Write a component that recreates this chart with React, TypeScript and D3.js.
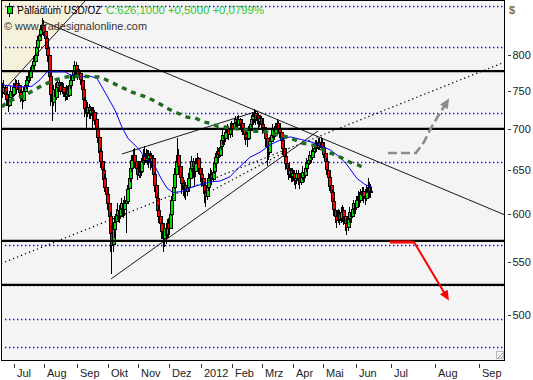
import React from "react";
import * as d3 from "d3";

// ---- data ----
const firstIndex = -8; // weekday index relative to 1 Jul 2011
const firstOpen = 752;
const closes = [
  748,755,745,738,732,742,750,745,
  755,760,752,758,748,742,738,750,758,765,
  770,768,778,786,792,800,812,822,830,838,
  845,835,825,810,800,770,745,735,752,742,
  755,762,758,750,755,748,742,752,745,
  758,765,772,778,785,778,770,774,765,752,
  738,728,722,728,720,724,718,722,712,700,
  690,672,660,650,640,630,622,612,598,580,
  568,585,592,600,605,598,606,612,605,612,
  615,628,640,652,662,668,660,652,645,
  655,648,660,668,662,670,664,668,660,664,
  645,632,618,605,598,590,582,575,585,578,
  590,585,600,615,630,645,660,668,655,642,
  635,628,632,625,630,640,652,660,654,648,
  658,664,652,645,640,632,625,620,630,
  640,645,640,648,658,665,672,668,678,686,
  692,688,696,700,694,700,706,700,708,712,
  706,712,704,708,700,694,690,688,698,706,
  712,716,720,712,718,710,714,706,702,
  696,688,678,672,685,692,700,694,702,708,
  700,696,686,676,666,658,652,645,650,642,
  646,638,640,646,640,636,642,648,644,652,
  658,662,668,665,672,676,680,678,684,680,
  684,678,670,660,650,642,632,624,614,605,
  598,594,600,595,602,604,598,590,586,
  595,602,598,606,612,608,616,620,615,622,
  626,620,618,625,630,625.6,626.1,
];
const highs = [
  760,764,758,750,742,748,756,755,
  760,766,764,765,760,752,748,755,762,770,
  776,777,783,792,798,806,818,828,836,845,
  855,852,840,828,815,802,775,752,758,760,
  762,768,764,762,762,760,754,758,756,
  762,772,778,784,792,790,782,780,776,768,
  755,742,735,735,732,730,728,728,724,716,
  704,694,676,664,655,645,636,628,616,602,
  588,590,598,606,612,610,612,618,616,620,
  622,633,646,658,668,675,676,666,658,
  660,660,664,675,679,675,674,674,672,670,
  668,648,636,622,610,602,595,588,590,590,
  595,596,605,620,636,652,666,688,675,660,
  648,640,638,636,636,646,658,666,664,660,
  664,670,665,656,650,644,636,630,636,
  646,652,650,652,664,670,678,676,684,692,
  698,696,702,706,704,708,710,708,714,716,
  716,718,714,712,710,704,700,696,704,712,
  718,722,726,724,722,720,718,716,712,
  706,700,690,682,690,698,706,704,708,712,
  710,706,698,690,680,670,664,656,656,652,
  652,650,646,650,650,646,648,654,652,656,
  664,668,672,674,678,682,686,686,688,688,
  690,688,682,674,664,654,646,636,628,618,
  610,604,606,604,608,610,608,600,596,
  600,608,606,612,616,616,620,626,624,628,
  630,630,628,632,640,636,634,
];
const lows = [
  740,745,738,730,722,728,740,738,
  742,748,746,748,742,735,726,735,745,752,
  760,760,765,774,780,788,798,808,818,826,
  832,828,818,800,790,760,730,710,730,722,
  738,748,748,744,745,742,736,738,737,
  742,752,760,766,772,770,765,764,758,745,
  730,715,698,715,712,712,698,712,705,692,
  682,665,652,642,632,624,615,605,590,560,
  538,560,575,588,594,590,595,600,596,598,
  580,612,624,636,648,656,652,645,638,
  640,640,645,655,656,658,656,652,650,652,
  638,624,610,598,590,582,574,560,565,568,
  575,575,584,598,612,628,642,655,648,635,
  622,620,618,615,620,626,638,648,640,630,
  642,652,645,636,630,622,612,608,615,
  626,636,632,636,645,652,660,658,665,674,
  680,680,684,688,686,688,692,690,698,702,
  700,704,698,696,692,686,680,678,686,694,
  702,706,708,705,706,700,702,698,694,
  688,678,655,662,668,680,688,686,690,696,
  694,688,678,668,658,650,644,638,640,636,
  636,632,628,634,632,628,632,638,636,640,
  648,652,656,658,662,666,670,672,674,674,
  676,672,664,654,644,636,626,616,606,598,
  590,585,590,588,590,592,588,582,578,
  582,590,590,596,600,600,604,610,608,612,
  614,612,610,614,620,618,618,
];

// moving averages: [weekday index, price]
const blueMA: [number, number][] = [
  [-8.6,758],[4.0,755],[12.4,756],[18.1,765],[23.0,776],[35.6,776],[39.1,772],[46.2,769],
  [53.2,770],[58.1,767],[63.7,748],[70.8,724],[75.7,702],[79.9,688],[86.9,676],[91.9,665],
  [98.9,654],[103.8,638],[107.3,629],[111.5,624],[117.9,625],[124.9,630],[137.5,636],
  [144.6,637],[151.6,642],[158.6,654],[165.7,665],[172.7,671],[179.7,680],[186.7,686],
  [193.8,690],[200.8,687],[209.9,683],[214.8,679],[221.9,674],[228.9,665],[233.8,656],
  [240.8,640],[246.4,633],[251.4,630],
];
const greenMA: [number, number][] = [
  [-8.6,728],[-5.1,735],[7.5,744],[13.1,750],[19.5,757],[28.6,765],[37.0,769],[47.6,770],
  [54.6,769],[60.2,769],[70.8,759],[82.7,748],[91.8,742],[98.9,736],[108.0,726],[115.0,720],
  [121.4,715],[127.0,714],[132.6,709],[138.2,707],[143.1,703],[149.5,702],[160.7,699],
  [167.7,697],[174.8,697],[179.7,695],[186.7,692],[191.6,690],[197.3,686],[202.9,682],
  [209.2,680],[214.8,676],[220.4,671],[225.4,668],[230.3,664],[235.9,659],[241.5,656],[247.1,651],
];

const monthLabels = ["Jul","Aug","Sep","Okt","Nov","Dez","2012","Feb","Mrz","Apr","Mai","Jun","Jul","Aug","Sep"];
const monthIndex = [0,21,44,66,87,109,131,153,174,196,217,240,264.4,295.4,326.5];
const priceTicks = [500,550,600,650,700,750,800];
const thickLevels = [777,700,571.6,528];
const dottedLevels = [874,811,720.5,659,567.5,528,496,472];

// drawn annotations: [weekday index, price]
const trendDotted: [number, number][] = [[-9.35,548.7],[344.8,789.9]];
const trendDotted2: [number, number][] = [[139.6,626.7],[193.0,673.8]];
const trendDown: [number, number][] = [[19.5,850.7],[344.8,599.1]];
const wedgeLow: [number, number][] = [[67.9,533.6],[213.4,697.3]];
const wedgeHigh: [number, number][] = [[75.7,668.9],[171.3,723]];
const cornerLine: [number, number][] = [[-7.2,751],[50.4,883.6]];
const cornerArea: [number, number][] = [[-9.35,883.6],[50.4,883.6],[-9.35,746.9]];
const grayArrow: [number, number][] = [[262.6,670.2],[282.3,670.2],[287.9,683.6],[292.1,698.6],[297,713.9],[303.4,733]];
const redFlat: [number, number][] = [[264,570.5],[280.9,570.5]];
const redDrop: [number, number][] = [[280.9,570.5],[303.3,518]];

const FONT = "'Liberation Sans', Arial, sans-serif";

function arrowHead(p0: [number, number], p1: [number, number], len: number, half: number) {
  const dx = p1[0] - p0[0], dy = p1[1] - p0[1];
  const l = Math.hypot(dx, dy);
  const ux = dx / l, uy = dy / l;
  const tip: [number, number] = [p1[0] + ux * len * 0.6, p1[1] + uy * len * 0.6];
  const bx = tip[0] - ux * len, by = tip[1] - uy * len;
  return `M${tip[0]},${tip[1]}L${bx - uy * half},${by + ux * half}L${bx + uy * half},${by - ux * half}Z`;
}

export default function App() {
  const W = 533, H = 380;
  const L = 1, R = 505, T = 0, B = 360;
  const x = d3.scaleLinear().domain([0, 240]).range([14.3, 355.8]);
  const y = d3.scaleLog().domain([500, 800]).range([315, 55]);
  const pt = (d: [number, number]): [number, number] => [x(d[0]), y(d[1])];
  const line = d3.line<[number, number]>().x((d) => x(d[0])).y((d) => y(d[1]));

  const candles = closes.map((c, k) => {
    const o = k === 0 ? firstOpen : closes[k - 1];
    const hi = Math.max(highs[k], o, c);
    const lo = Math.min(lows[k], o, c);
    return { i: firstIndex + k, o, c, hi, lo };
  });

  const gA = grayArrow.map(pt);
  const rD = redDrop.map(pt);

  return (
    <div style={{ position: "absolute", left: 0, top: 0 }}>
      <svg width={W} height={H} style={{ display: "block", background: "#fff" }}>
        <defs>
          <clipPath id="plot">
            <rect x={L} y={T} width={R - L} height={B - T} />
          </clipPath>
        </defs>
        <rect x={L} y={T} width={R - L} height={B - T} fill="#f4f4f4" />
        <g clipPath="url(#plot)">
          <path d={line(cornerArea) + "Z"} fill="#f6f1db" />
          {dottedLevels.map((v, k) => (
            <line key={"dl" + k} x1={5} x2={R} y1={Math.round(y(v)) + 0.5} y2={Math.round(y(v)) + 0.5}
              stroke="#1010d0" strokeWidth={1.3} strokeDasharray="1.4 2.6" />
          ))}
          {candles.map((d, k) => {
            const cx = Math.round(x(d.i));
            const yo = y(d.o), yc = y(d.c);
            const top = Math.round(Math.min(yo, yc)) + 0.5;
            const h = Math.max(1, Math.round(Math.abs(yo - yc)));
            return (
              <g key={"c" + k} shapeRendering="crispEdges">
                <line x1={cx - 0.5} x2={cx - 0.5} y1={y(d.hi)} y2={y(d.lo)} stroke="#000" strokeWidth={1} />
                <rect x={cx - 1.5} y={top} width={3} height={h}
                  fill={d.c >= d.o ? "#00e000" : "#ff0000"} stroke="#000" strokeWidth={1} />
              </g>
            );
          })}
          {thickLevels.map((v, k) => (
            <line key={"tl" + k} x1={L} x2={R} y1={y(v)} y2={y(v)} stroke="#000" strokeWidth={2.2} />
          ))}
          <path d={line(cornerLine)!} stroke="#000" strokeWidth={0.9} fill="none" />
          <path d={line(trendDown)!} stroke="#000" strokeWidth={0.9} fill="none" />
          <path d={line(wedgeLow)!} stroke="#000" strokeWidth={0.9} fill="none" />
          <path d={line(wedgeHigh)!} stroke="#000" strokeWidth={0.9} fill="none" />
          <path d={line(trendDotted)!} stroke="#000" strokeWidth={1.2} strokeDasharray="1.3 3" fill="none" />
          <path d={line(trendDotted2)!} stroke="#000" strokeWidth={1.2} strokeDasharray="1.3 3" fill="none" />
          <path d={line(blueMA)!} stroke="#0000ff" strokeWidth={1} fill="none" />
          <path d={line(greenMA)!} stroke="#1f6b1f" strokeWidth={3.4} strokeDasharray="5 5" fill="none" />
          <path d={line(grayArrow)!} stroke="#8c8c8c" strokeWidth={2.6} strokeDasharray="9 4" fill="none" />
          <path d={arrowHead(gA[gA.length - 2], gA[gA.length - 1], 10, 4.5)} fill="#8c8c8c" />
          <path d={line(redFlat)!} stroke="#ff0000" strokeWidth={3} fill="none" />
          <path d={line(redDrop)!} stroke="#ff0000" strokeWidth={2} fill="none" />
          <path d={arrowHead(rD[0], rD[1], 10, 4.5)} fill="#ff0000" />
          <path d={`M${R - 8},${B - 1}L${R - 1},${B - 8}M${R - 5},${B - 1}L${R - 1},${B - 5}`} stroke="#999" strokeWidth={1} />
          <rect x={R - 8.5} y={B - 8.5} width={7} height={7} fill="none" stroke="#bbb" strokeWidth={1} />
        </g>
        <rect x={L + 0.5} y={T + 0.5} width={R - L - 1} height={B - T} fill="none" stroke="#000" strokeWidth={1} />

        {/* legend */}
        <line x1={9.5} x2={9.5} y1={3} y2={17} stroke="#000" strokeWidth={1} />
        <rect x={7.5} y={6.5} width={5} height={7} fill="#00e000" stroke="#000" strokeWidth={1} />
        <text x={17.3} y={14} fontFamily={FONT} fontSize={11} fill="#000" textLength={84} lengthAdjust="spacingAndGlyphs">
          Palladium USD/OZ
        </text>
        <text x={106} y={14} fontFamily={FONT} fontSize={11} fill="#2ec82e" textLength={158} lengthAdjust="spacingAndGlyphs">
          C:626,1000 +0,5000 +0,0799%
        </text>
        <text x={4} y={30} fontFamily={FONT} fontSize={11} fill="#333" textLength={143} lengthAdjust="spacingAndGlyphs">
          © www.tradesignalonline.com
        </text>

        {/* right axis */}
        <text x={509} y={14} fontFamily={FONT} fontSize={11} fontWeight="bold" fill="#8a6d1c">$</text>
        {priceTicks.map((v) => (
          <g key={"pt" + v}>
            <line x1={508} x2={511} y1={Math.round(y(v)) + 0.5} y2={Math.round(y(v)) + 0.5} stroke="#333" strokeWidth={1} />
            <text x={512.5} y={y(v) + 4} fontFamily={FONT} fontSize={11} fill="#222">{v}</text>
          </g>
        ))}

        {/* bottom axis */}
        {monthLabels.map((m, k) => {
          const tx = Math.round(x(monthIndex[k])) + 0.5;
          return (
            <g key={"m" + k}>
              <line x1={tx} x2={tx} y1={364} y2={368} stroke="#333" strokeWidth={1} />
              <text x={tx + 2.5} y={377} fontFamily={FONT} fontSize={11} fill="#222">{m}</text>
            </g>
          );
        })}
      </svg>
    </div>
  );
}
